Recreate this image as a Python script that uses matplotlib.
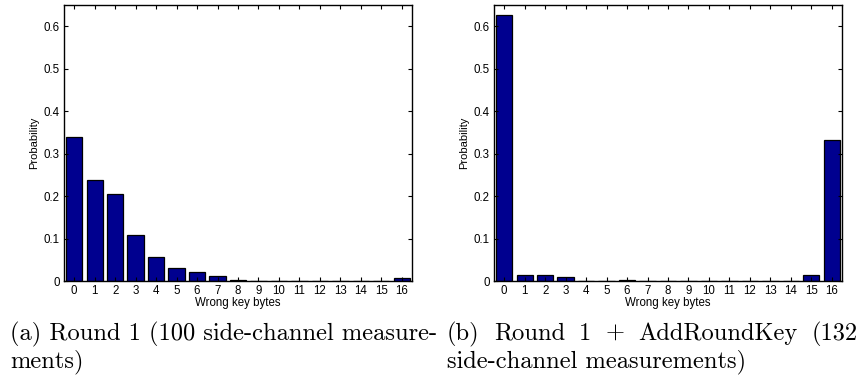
import numpy as np
import matplotlib
matplotlib.use("Agg")
import matplotlib.pyplot as plt

# wrong key bytes 0..16
key_bytes = list(range(17))

# (a) Round 1, 100 side-channel measurements
prob_a = [0.338, 0.238, 0.205, 0.108, 0.056, 0.031, 0.022, 0.011, 0.003,
          0, 0, 0, 0, 0, 0, 0, 0.007]
# (b) Round 1 + AddRoundKey, 132 side-channel measurements
prob_b = [0.626, 0.013, 0.013, 0.010, 0, 0, 0.003, 0, 0,
          0, 0, 0, 0, 0, 0, 0.013, 0.331]

yticks = [0, 0.1, 0.2, 0.3, 0.4, 0.5, 0.6]
ytick_labels = ['0', '0.1', '0.2', '0.3', '0.4', '0.5', '0.6']

caption_a = ["(a) Round 1 (100 side-channel measure-", "ments)"]
caption_b_words = ["(b)", "Round", "1", "+", "AddRoundKey", "(132"]
caption_b_line2 = "side-channel measurements)"

W, H = 861, 378
fig = plt.figure(figsize=(W / 100, H / 100), dpi=100)

sans = 'Liberation Sans'
serif = ['cmr10', 'DejaVu Serif']


def panel(left, vals):
    ax = fig.add_axes([left / W, (H - 281) / H, 348 / W, 276 / H])
    ax.bar(key_bytes, vals, width=0.8, color=(0, 0, 0.5625),
           edgecolor='black', linewidth=0.9)
    ax.set_xlim(-0.5, 16.5)
    ax.set_ylim(0, 0.65)
    ax.set_xticks(key_bytes)
    ax.set_xticklabels([str(k) for k in key_bytes], fontfamily=sans, fontsize=8.3)
    ax.set_yticks(yticks)
    ax.set_yticklabels(ytick_labels, fontfamily=sans, fontsize=8.3)
    ax.tick_params(direction='in', length=3, width=0.8, top=True, right=True,
                   pad=3)
    for s in ax.spines.values():
        s.set_linewidth(1.0)
    ax.set_xlabel('Wrong key bytes', fontfamily=sans, fontsize=8.3, labelpad=0)
    ax.set_ylabel('Probability', fontfamily=sans, fontsize=8, labelpad=3)
    return ax


panel(64, prob_a)
panel(494, prob_b)

fs = 17.6
y1 = 1 - 340 / H
y2 = 1 - 367 / H
fig.text(10 / W, y1, caption_a[0], fontfamily=serif, fontsize=fs, va='baseline')
fig.text(10 / W, y2, caption_a[1], fontfamily=serif, fontsize=fs, va='baseline')

# justified first line of caption (b)
fig.canvas.draw()
renderer = fig.canvas.get_renderer()
texts = [fig.text(0, y1, w, fontfamily=serif, fontsize=fs, va='baseline')
         for w in caption_b_words]
widths = [t.get_window_extent(renderer).width for t in texts]
x0, x1 = 447, 858
gap = (x1 - x0 - sum(widths)) / (len(texts) - 1)
x = x0
for t, w in zip(texts, widths):
    t.set_x(x / W)
    x += w + gap
fig.text(x0 / W, y2, caption_b_line2, fontfamily=serif, fontsize=fs,
         va='baseline')

fig.savefig('out.png', dpi=100)
